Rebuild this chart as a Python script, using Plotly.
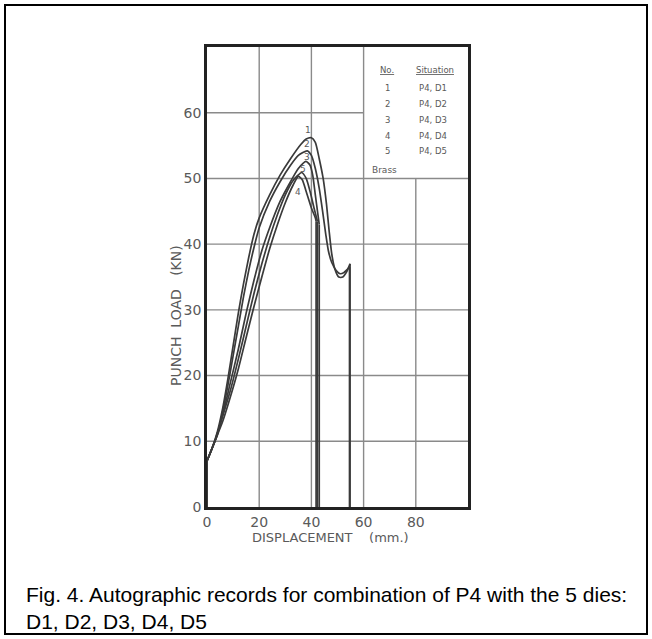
import plotly.graph_objects as go

# ---- data ----
c1_x = [0, 0, 2, 4, 6, 8, 10, 12, 14, 16, 18, 20, 24, 28, 32, 36, 38, 40, 41.5, 43, 44.5, 45.8, 46.8, 47.8, 49, 50.5, 52, 53.5, 54.8, 54.8]
c1_y = [0, 7, 9, 11.5, 15, 19.5, 24.5, 29.5, 34, 38, 41.5, 44, 47.5, 50.5, 53, 55.2, 56, 56.2, 55.5, 53, 50, 46, 42, 38.5, 36.2, 35, 35, 35.8, 37, 0]

c2_x = [0, 0, 2, 4, 6, 8, 10, 12, 14, 16, 18, 20, 24, 28, 32, 35, 38.4, 40, 41.5, 43, 44.3, 45.5, 46.5, 47.8, 49.5, 51, 52.5, 54.6, 54.6]
c2_y = [0, 7, 9, 11, 14.5, 18.5, 23, 27.5, 32, 36, 39.5, 42.5, 46.5, 49.5, 52, 53.5, 54.2, 53.5, 51.5, 48.5, 45, 41.5, 39, 37.2, 36, 35.5, 35.7, 36.5, 0]

c3_x = [0, 0, 3, 6, 9, 12, 15, 18, 21, 24, 28, 32, 35, 37.9, 39.5, 40.5, 41.5, 42.5, 43, 43]
c3_y = [0, 7, 10, 14, 19, 24, 29.5, 34.5, 39, 42.5, 46.5, 49.5, 51.5, 52.6, 52, 50.5, 47.5, 44.5, 43, 0]

c4_x = [0, 0, 3, 6, 9, 12, 15, 18, 21, 24, 27, 30, 33, 35, 36.5, 38, 40, 41.5, 41.8, 41.8]
c4_y = [0, 7, 10, 13, 16.8, 21, 25.8, 30.5, 35, 39.3, 43, 46.3, 49, 50.3, 49.8, 48, 45.5, 44, 43.5, 0]

c5_x = [0, 0, 3, 6, 9, 12, 15, 18, 21, 24, 27, 30, 33, 36.3, 38, 39.5, 41, 42.3, 42.3]
c5_y = [0, 7, 10, 13.8, 17.8, 22.5, 27.5, 32.5, 37, 41, 44.5, 47.5, 49.7, 50.9, 50, 48, 45.5, 43.5, 0]

curve_labels = ["1", "2", "3", "4", "5"]
curve_label_x = [38.6, 38.5, 38.3, 35.0, 36.9]
curve_label_y = [57.4, 55.2, 53.3, 48.0, 51.4]

table_no = ["1", "2", "3", "4", "5"]
table_situation = ["P4, D1", "P4, D2", "P4, D3", "P4, D4", "P4, D5"]

x_ticks = [0, 20, 40, 60, 80]
y_ticks = [0, 10, 20, 30, 40, 50, 60]

# ---- figure ----
LINE = "#3a3a3a"
GRID = "#8a8a8a"
TXT = "#5a5a5a"
FONT = "DejaVu Sans"

fig = go.Figure()
for xs, ys in [(c1_x, c1_y), (c2_x, c2_y), (c3_x, c3_y), (c4_x, c4_y), (c5_x, c5_y)]:
    # straight initial jump and final vertical drop, smooth curve in between
    fig.add_trace(go.Scatter(x=xs[:2], y=ys[:2], mode="lines", line=dict(color=LINE, width=1.7),
                             showlegend=False, hoverinfo="skip"))
    fig.add_trace(go.Scatter(x=xs[1:-1], y=ys[1:-1], mode="lines",
                             line=dict(color=LINE, width=1.7, shape="spline", smoothing=0.6),
                             showlegend=False, hoverinfo="skip"))
    fig.add_trace(go.Scatter(x=xs[-2:], y=ys[-2:], mode="lines", line=dict(color=LINE, width=1.7),
                             showlegend=False, hoverinfo="skip"))

L, R, T, B = 207, 184, 47, 132
W, H = 652, 639


def px(xp):
    return (xp - L) / (W - L - R)


def py(yp):
    return ((H - yp) - B) / (H - T - B)


shapes = []
# partial grid (legend box area left blank)
for xv in [20, 40, 60]:
    shapes.append(dict(type="line", xref="x", yref="y", x0=xv, x1=xv, y0=0, y1=70, line=dict(color=GRID, width=1.4), layer="below"))
shapes.append(dict(type="line", xref="x", yref="y", x0=80, x1=80, y0=0, y1=50, line=dict(color=GRID, width=1.4), layer="below"))
for yv in [10, 20, 30, 40, 50]:
    shapes.append(dict(type="line", xref="x", yref="y", x0=0, x1=100, y0=yv, y1=yv, line=dict(color=GRID, width=1.4), layer="below"))
shapes.append(dict(type="line", xref="x", yref="y", x0=0, x1=60, y0=60, y1=60, line=dict(color=GRID, width=1.4), layer="below"))
# outer figure border
shapes.append(dict(type="rect", xref="paper", yref="paper", x0=px(5), x1=px(647), y0=py(634), y1=py(5),
                   line=dict(color="#000000", width=2), layer="above"))
fig.update_layout(shapes=shapes)

ann = []
for t, xv, yv in zip(curve_labels, curve_label_x, curve_label_y):
    ann.append(dict(x=xv, y=yv, xref="x", yref="y", text=t, showarrow=False, font=dict(family=FONT, size=9, color=TXT)))
# table in the top-right box
ann.append(dict(x=69, y=66.5, xref="x", yref="y", text="<u>No.</u>", showarrow=False, font=dict(family=FONT, size=8.5, color=TXT)))
ann.append(dict(x=87.5, y=66.5, xref="x", yref="y", text="<u>Situation</u>", showarrow=False, font=dict(family=FONT, size=8.5, color=TXT)))
row_y = [63.8, 61.4, 58.9, 56.5, 54.2]
for n, s, yv in zip(table_no, table_situation, row_y):
    ann.append(dict(x=69, y=yv, xref="x", yref="y", text=n, showarrow=False, font=dict(family=FONT, size=8.5, color=TXT)))
    ann.append(dict(x=80.5, y=yv, xref="x", yref="y", text=s, showarrow=False, xanchor="left", font=dict(family=FONT, size=8.5, color=TXT)))
ann.append(dict(x=62.5, y=51.3, xref="x", yref="y", text="Brass", showarrow=False, xanchor="left", font=dict(family=FONT, size=9, color=TXT)))
# axis titles
ann.append(dict(x=px(330), y=py(537), xref="paper", yref="paper", xanchor="center", yanchor="middle",
                text="DISPLACEMENT&nbsp;&nbsp;&nbsp;&nbsp;(mm.)", showarrow=False,
                font=dict(family=FONT, size=13, color=TXT)))
ann.append(dict(x=px(176), y=py(316), xref="paper", yref="paper", xanchor="center", yanchor="middle",
                text="PUNCH&nbsp;&nbsp;LOAD&nbsp;&nbsp;&nbsp;(KN)", showarrow=False, textangle=-90,
                font=dict(family=FONT, size=14, color=TXT)))
# caption
ann.append(dict(x=px(24), y=py(608), xref="paper", yref="paper", xanchor="left", yanchor="middle", align="left",
                text="Fig. 4. Autographic records for combination of P4 with the 5 dies:<br>D1, D2, D3, D4, D5",
                showarrow=False, font=dict(family="Liberation Sans, Arial", size=21, color="#000000")))
fig.update_layout(annotations=ann)

fig.update_layout(
    width=W, height=H,
    margin=dict(l=L, r=R, t=T, b=B),
    paper_bgcolor="white", plot_bgcolor="white",
    xaxis=dict(range=[0, 100], tickvals=x_ticks, showgrid=False, zeroline=False, showline=True, mirror=True,
               linecolor="#222222", linewidth=2.5, ticks="", tickfont=dict(family=FONT, size=14, color=TXT)),
    yaxis=dict(range=[0, 70], tickvals=y_ticks, showgrid=False, zeroline=False, showline=True, mirror=True,
               linecolor="#222222", linewidth=2.5, ticks="", tickfont=dict(family=FONT, size=14, color=TXT)),
)

fig.write_html("out.html")
